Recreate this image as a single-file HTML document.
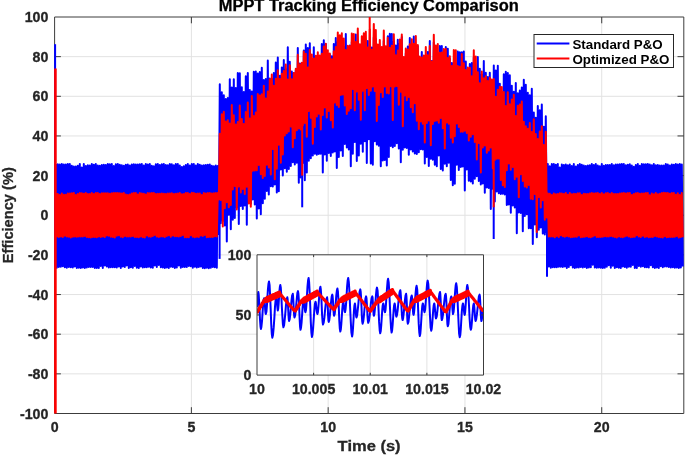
<!DOCTYPE html>
<html><head><meta charset="utf-8"><title>MPPT Tracking Efficiency Comparison</title>
<style>html,body{margin:0;padding:0;background:#fff;overflow:hidden}body{width:685px;height:455px;position:relative}</style></head>
<body>
<svg width="685" height="455" viewBox="0 0 685 455" style="display:block;position:absolute;left:0;top:0">
<rect width="685" height="455" fill="#fff"/>
<path d="M54.6 373.85H683.8M54.6 334.20H683.8M54.6 294.55H683.8M54.6 254.90H683.8M54.6 215.25H683.8M54.6 175.60H683.8M54.6 135.95H683.8M54.6 96.30H683.8M54.6 56.65H683.8M191.38 17.0V413.5M328.17 17.0V413.5M464.95 17.0V413.5M601.73 17.0V413.5" stroke="#e2e2e2" stroke-width="1" fill="none"/>
<path d="M54.6 17.0H683.8V413.5H54.6ZM54.6 373.85h6.3M683.8 373.85h-6.3M54.6 334.20h6.3M683.8 334.20h-6.3M54.6 294.55h6.3M683.8 294.55h-6.3M54.6 254.90h6.3M683.8 254.90h-6.3M54.6 215.25h6.3M683.8 215.25h-6.3M54.6 175.60h6.3M683.8 175.60h-6.3M54.6 135.95h6.3M683.8 135.95h-6.3M54.6 96.30h6.3M683.8 96.30h-6.3M54.6 56.65h6.3M683.8 56.65h-6.3M191.38 413.5v-6.3M191.38 17.0v6.3M328.17 413.5v-6.3M328.17 17.0v6.3M464.95 413.5v-6.3M464.95 17.0v6.3M601.73 413.5v-6.3M601.73 17.0v6.3" stroke="#3c3c3c" stroke-width="1" fill="none"/>
<g fill="none" stroke-linejoin="round" stroke-width="2">
<polyline points="55.8,163.9 56.8,267.8 57.8,164.3 58.8,266.9 59.8,164.5 60.8,266.8 61.8,164.0 62.8,266.3 63.8,164.6 64.8,267.3 65.8,164.6 66.8,267.7 67.8,164.0 68.8,266.9 69.8,163.9 70.8,267.2 71.8,165.8 72.8,267.5 73.8,166.5 74.8,266.4 75.8,166.5 76.8,267.9 77.8,165.7 78.8,267.8 79.8,164.1 80.8,267.9 81.8,167.4 82.8,267.4 83.8,164.0 84.8,268.0 85.8,166.0 86.8,267.5 87.8,165.3 88.8,267.1 89.8,165.4 90.8,267.1 91.8,163.9 92.8,267.0 93.8,164.7 94.8,268.0 95.8,164.1 96.8,268.1 97.8,165.6 98.8,268.1 99.8,165.8 100.8,266.0 101.8,165.1 102.8,268.0 103.8,164.8 104.8,265.4 105.8,165.0 106.8,266.5 107.8,164.0 108.8,267.4 109.8,164.2 110.8,267.2 111.8,164.0 112.8,267.3 113.8,165.9 114.8,267.2 115.8,164.2 116.8,267.5 117.8,164.1 118.8,266.5 119.8,164.7 120.8,267.9 121.8,165.2 122.8,266.6 123.8,165.7 124.8,267.1 125.8,164.8 126.8,265.4 127.8,164.5 128.8,268.0 129.8,165.6 130.8,267.2 131.8,164.4 132.8,267.7 133.8,164.3 134.8,266.1 135.8,164.5 136.8,267.8 137.8,164.4 138.8,268.0 139.8,164.2 140.8,266.6 141.8,163.9 142.8,267.6 143.8,165.5 144.8,267.3 145.8,163.9 146.8,267.3 147.8,164.4 148.8,266.7 149.8,163.9 150.8,267.4 151.8,165.7 152.8,267.7 153.8,166.2 154.8,265.4 155.8,164.3 156.8,266.9 157.8,164.1 158.8,265.1 159.8,165.1 160.8,267.3 161.8,164.2 162.8,267.5 163.8,164.1 164.8,267.9 165.8,164.9 166.8,267.5 167.8,165.3 168.8,268.1 169.8,164.0 170.8,266.7 171.8,164.3 172.8,267.0 173.8,165.3 174.8,267.9 175.8,164.0 176.8,267.4 177.8,164.1 178.8,265.4 179.8,165.5 180.8,267.7 181.8,166.9 182.8,267.0 183.8,166.3 184.8,267.1 185.8,165.1 186.8,267.1 187.8,164.1 188.8,266.1 189.8,165.6 190.8,266.2 191.8,164.0 192.8,267.8 193.8,164.1 194.8,266.8 195.8,165.4 196.8,267.4 197.8,164.0 198.8,267.1 199.8,164.8 200.8,266.4 201.8,165.6 202.8,268.0 203.8,165.2 204.8,268.2 205.8,164.9 206.8,267.7 207.8,164.7 208.8,268.2 209.8,164.4 210.8,267.8 211.8,165.8 212.8,267.1 213.8,166.2 214.8,267.3 215.8,165.4 216.8,267.7 217.8,165.9 218.8,234.1 219.8,84.3 220.8,223.3 221.8,92.3 222.8,220.9 223.8,95.3 224.8,225.4 225.8,99.0 226.8,241.5 227.8,97.9 228.8,214.8 229.8,79.3 230.8,229.2 231.8,87.4 232.8,219.7 233.8,79.3 234.8,218.0 235.8,88.1 236.8,207.6 237.8,73.0 238.8,224.1 239.8,73.2 240.8,206.0 241.8,87.2 242.8,209.1 243.8,92.1 244.8,205.5 245.8,76.2 246.8,224.8 247.8,73.0 248.8,202.8 249.8,90.1 250.8,203.7 251.8,91.5 252.8,199.6 253.8,71.8 254.8,204.5 255.8,71.5 256.8,218.5 257.8,73.4 258.8,208.4 259.8,72.1 260.8,214.2 261.8,67.7 262.8,203.3 263.8,79.9 264.8,198.7 265.8,79.0 266.8,191.0 267.8,60.4 268.8,194.5 269.8,78.6 270.8,186.2 271.8,78.9 272.8,186.5 273.8,73.1 274.8,184.6 275.8,62.6 276.8,192.5 277.8,57.5 278.8,191.2 279.8,75.7 280.8,169.5 281.8,67.5 282.8,175.6 283.8,60.0 284.8,168.3 285.8,69.2 286.8,171.7 287.8,47.3 288.8,169.0 289.8,61.7 290.8,166.0 291.8,71.6 292.8,162.3 293.8,73.1 294.8,164.5 295.8,70.1 296.8,162.7 297.8,47.9 298.8,182.8 299.8,63.4 300.8,177.5 301.8,63.3 302.8,163.1 303.8,50.5 304.8,180.2 305.8,44.5 306.8,172.5 307.8,48.0 308.8,160.7 309.8,43.2 310.8,158.2 311.8,63.9 312.8,155.4 313.8,47.2 314.8,153.8 315.8,56.3 316.8,154.7 317.8,63.0 318.8,154.1 319.8,65.8 320.8,153.8 321.8,44.1 322.8,172.5 323.8,40.3 324.8,154.6 325.8,43.9 326.8,160.8 327.8,59.5 328.8,153.1 329.8,54.6 330.8,155.9 331.8,56.2 332.8,152.4 333.8,44.0 334.8,151.5 335.8,38.1 336.8,168.1 337.8,41.7 338.8,156.9 339.8,59.7 340.8,150.5 341.8,55.6 342.8,156.1 343.8,46.9 344.8,143.9 345.8,33.9 346.8,147.4 347.8,50.5 348.8,149.5 349.8,45.5 350.8,166.3 351.8,41.9 352.8,153.7 353.8,45.1 354.8,141.9 355.8,34.6 356.8,161.0 357.8,43.6 358.8,155.5 359.8,51.3 360.8,143.8 361.8,43.9 362.8,151.8 363.8,41.5 364.8,141.2 365.8,51.8 366.8,163.0 367.8,41.1 368.8,139.3 369.8,52.9 370.8,163.6 371.8,47.6 372.8,164.7 373.8,37.4 374.8,141.2 375.8,39.0 376.8,144.4 377.8,55.9 378.8,145.7 379.8,54.0 380.8,166.3 381.8,53.5 382.8,160.4 383.8,41.1 384.8,160.0 385.8,51.1 386.8,165.5 387.8,36.3 388.8,157.1 389.8,33.7 390.8,145.9 391.8,34.1 392.8,147.3 393.8,41.4 394.8,146.0 395.8,45.6 396.8,143.2 397.8,39.8 398.8,148.5 399.8,43.5 400.8,162.3 401.8,37.0 402.8,149.7 403.8,58.3 404.8,147.4 405.8,53.4 406.8,148.0 407.8,46.4 408.8,154.7 409.8,38.1 410.8,149.4 411.8,58.2 412.8,151.5 413.8,36.6 414.8,153.5 415.8,56.3 416.8,153.9 417.8,46.2 418.8,152.3 419.8,60.1 420.8,149.2 421.8,51.9 422.8,149.5 423.8,60.6 424.8,163.5 425.8,59.3 426.8,157.0 427.8,52.1 428.8,165.9 429.8,40.9 430.8,158.8 431.8,61.0 432.8,159.8 433.8,42.4 434.8,164.7 435.8,64.0 436.8,166.3 437.8,62.2 438.8,155.6 439.8,46.1 440.8,169.0 441.8,45.9 442.8,170.6 443.8,59.2 444.8,163.7 445.8,46.9 446.8,166.3 447.8,48.8 448.8,162.7 449.8,58.7 450.8,180.0 451.8,62.9 452.8,185.3 453.8,62.4 454.8,183.7 455.8,70.0 456.8,164.7 457.8,51.5 458.8,170.1 459.8,52.2 460.8,167.1 461.8,52.3 462.8,166.6 463.8,51.5 464.8,190.4 465.8,61.4 466.8,169.6 467.8,71.4 468.8,180.8 469.8,64.0 470.8,181.5 471.8,63.0 472.8,183.5 473.8,57.5 474.8,178.7 475.8,78.0 476.8,176.3 477.8,57.0 478.8,180.9 479.8,68.7 480.8,184.6 481.8,74.6 482.8,183.4 483.8,61.0 484.8,192.7 485.8,72.8 486.8,187.4 487.8,77.1 488.8,188.0 489.8,72.7 490.8,208.9 491.8,81.6 492.8,188.7 493.8,65.6 494.8,201.6 495.8,70.4 496.8,191.4 497.8,65.7 498.8,193.3 499.8,83.8 500.8,194.1 501.8,92.0 502.8,193.7 503.8,74.2 504.8,194.6 505.8,71.8 506.8,205.1 507.8,73.0 508.8,204.6 509.8,75.2 510.8,212.8 511.8,85.8 512.8,205.4 513.8,91.7 514.8,207.4 515.8,83.1 516.8,233.3 517.8,93.3 518.8,212.5 519.8,90.5 520.8,212.9 521.8,87.6 522.8,231.3 523.8,79.7 524.8,215.9 525.8,84.8 526.8,214.3 527.8,92.7 528.8,228.2 529.8,95.2 530.8,228.2 531.8,88.8 532.8,243.9 533.8,112.4 534.8,224.4 535.8,117.8 536.8,237.3 537.8,105.9 538.8,229.7 539.8,110.2 540.8,227.6 541.8,104.6 542.8,233.4 543.8,126.7 544.8,234.6 545.8,116.3 546.8,232.6 547.8,164.0 548.8,266.5 549.8,166.3 550.8,267.8 551.8,164.0 552.8,267.2 553.8,164.0 554.8,267.3 555.8,164.7 556.8,267.2 557.8,164.0 558.8,266.8 559.8,167.5 560.8,266.8 561.8,164.5 562.8,267.0 563.8,165.0 564.8,266.6 565.8,164.6 566.8,268.1 567.8,165.3 568.8,266.9 569.8,164.6 570.8,265.3 571.8,165.9 572.8,267.6 573.8,164.1 574.8,267.9 575.8,166.4 576.8,267.5 577.8,165.0 578.8,267.4 579.8,164.0 580.8,267.0 581.8,164.8 582.8,267.4 583.8,165.5 584.8,267.1 585.8,165.9 586.8,267.9 587.8,165.5 588.8,267.5 589.8,165.2 590.8,267.3 591.8,164.1 592.8,264.7 593.8,165.0 594.8,267.5 595.8,164.0 596.8,267.7 597.8,165.6 598.8,267.5 599.8,166.3 600.8,267.8 601.8,163.9 602.8,268.0 603.8,165.7 604.8,267.7 605.8,165.0 606.8,266.7 607.8,165.1 608.8,265.3 609.8,165.0 610.8,267.8 611.8,164.1 612.8,265.7 613.8,165.2 614.8,268.0 615.8,164.5 616.8,267.2 617.8,164.5 618.8,267.8 619.8,164.3 620.8,268.0 621.8,164.1 622.8,266.6 623.8,163.9 624.8,267.0 625.8,165.2 626.8,267.8 627.8,164.8 628.8,266.7 629.8,164.2 630.8,266.7 631.8,165.5 632.8,265.0 633.8,166.7 634.8,267.9 635.8,164.9 636.8,268.0 637.8,164.0 638.8,266.0 639.8,165.7 640.8,266.7 641.8,164.0 642.8,266.2 643.8,164.2 644.8,267.2 645.8,164.3 646.8,267.2 647.8,164.0 648.8,267.5 649.8,164.6 650.8,265.2 651.8,165.2 652.8,267.2 653.8,164.1 654.8,268.1 655.8,165.3 656.8,267.5 657.8,164.9 658.8,267.9 659.8,165.6 660.8,266.3 661.8,165.6 662.8,267.3 663.8,165.4 664.8,266.4 665.8,164.0 666.8,266.4 667.8,164.4 668.8,266.9 669.8,165.6 670.8,267.6 671.8,164.5 672.8,267.2 673.8,164.8 674.8,267.7 675.8,163.9 676.8,267.4 677.8,164.6 678.8,268.1 679.8,163.9 680.8,267.4 681.8,164.5 682.8,266.6" stroke="#0000ff"/>
<line x1="55.1" y1="266.8" x2="55.1" y2="44.2" stroke="#0000ff" stroke-width="2"/>
<line x1="302.2" y1="155.8" x2="302.2" y2="207.3" stroke="#0000ff" stroke-width="2"/>
<line x1="493.7" y1="175.6" x2="493.7" y2="239.0" stroke="#0000ff" stroke-width="2"/>
<line x1="547.0" y1="215.2" x2="547.0" y2="276.7" stroke="#0000ff" stroke-width="2"/>
<line x1="219.6" y1="215.2" x2="219.6" y2="258.9" stroke="#0000ff" stroke-width="2"/>
<polyline points="55.8,193.1 56.8,236.6 57.8,194.0 58.8,236.9 59.8,195.1 60.8,236.6 61.8,193.6 62.8,237.1 63.8,194.7 64.8,235.8 65.8,194.8 66.8,236.5 67.8,193.5 68.8,236.7 69.8,193.6 70.8,237.4 71.8,193.3 72.8,236.8 73.8,192.9 74.8,236.4 75.8,195.1 76.8,236.8 77.8,193.9 78.8,236.5 79.8,193.1 80.8,236.6 81.8,193.2 82.8,236.6 83.8,193.8 84.8,235.9 85.8,192.9 86.8,237.0 87.8,193.9 88.8,237.3 89.8,193.9 90.8,237.4 91.8,192.9 92.8,236.9 93.8,193.9 94.8,237.1 95.8,193.1 96.8,237.3 97.8,192.9 98.8,236.6 99.8,193.9 100.8,237.1 101.8,193.3 102.8,236.6 103.8,193.2 104.8,237.1 105.8,193.3 106.8,235.5 107.8,193.2 108.8,235.7 109.8,193.8 110.8,236.8 111.8,193.2 112.8,237.0 113.8,192.9 114.8,237.4 115.8,193.1 116.8,235.7 117.8,193.1 118.8,235.3 119.8,193.2 120.8,236.7 121.8,193.6 122.8,237.2 123.8,193.1 124.8,236.0 125.8,194.6 126.8,236.4 127.8,194.9 128.8,236.5 129.8,194.4 130.8,236.4 131.8,193.5 132.8,236.1 133.8,193.1 134.8,237.1 135.8,192.9 136.8,236.9 137.8,194.6 138.8,237.3 139.8,193.0 140.8,236.5 141.8,193.4 142.8,237.2 143.8,193.7 144.8,237.4 145.8,194.6 146.8,235.5 147.8,193.1 148.8,236.6 149.8,193.2 150.8,236.7 151.8,193.1 152.8,236.1 153.8,193.0 154.8,235.0 155.8,194.0 156.8,236.4 157.8,193.7 158.8,237.1 159.8,193.8 160.8,236.6 161.8,193.5 162.8,236.6 163.8,193.7 164.8,237.1 165.8,194.0 166.8,235.9 167.8,193.5 168.8,235.2 169.8,193.6 170.8,236.8 171.8,193.3 172.8,235.6 173.8,194.0 174.8,236.3 175.8,193.7 176.8,236.3 177.8,193.6 178.8,236.5 179.8,193.0 180.8,235.9 181.8,194.3 182.8,235.1 183.8,193.9 184.8,237.2 185.8,193.1 186.8,237.3 187.8,193.1 188.8,237.2 189.8,194.0 190.8,235.3 191.8,192.8 192.8,236.7 193.8,193.0 194.8,237.2 195.8,193.8 196.8,236.8 197.8,193.6 198.8,237.1 199.8,193.5 200.8,235.4 201.8,195.1 202.8,236.0 203.8,193.1 204.8,235.0 205.8,193.6 206.8,237.2 207.8,193.1 208.8,236.9 209.8,193.1 210.8,236.9 211.8,193.6 212.8,237.1 213.8,193.3 214.8,236.3 215.8,192.9 216.8,236.6 217.8,193.0 218.8,199.5 219.8,133.7 220.8,200.0 221.8,114.3 222.8,226.4 223.8,111.7 224.8,208.2 225.8,121.5 226.8,202.3 227.8,120.2 228.8,207.3 229.8,123.5 230.8,204.9 231.8,104.9 232.8,189.4 233.8,115.2 234.8,185.9 235.8,124.6 236.8,209.5 237.8,122.0 238.8,186.5 239.8,105.6 240.8,192.4 241.8,119.1 242.8,189.0 243.8,124.1 244.8,193.9 245.8,112.1 246.8,186.7 247.8,102.6 248.8,203.4 249.8,118.5 250.8,206.8 251.8,96.1 252.8,170.7 253.8,116.1 254.8,170.4 255.8,112.6 256.8,170.2 257.8,94.0 258.8,165.0 259.8,95.6 260.8,174.3 261.8,94.2 262.8,178.0 263.8,85.8 264.8,175.9 265.8,98.5 266.8,164.7 267.8,91.5 268.8,167.4 269.8,79.3 270.8,174.4 271.8,74.6 272.8,149.1 273.8,85.7 274.8,179.2 275.8,78.8 276.8,168.8 277.8,70.3 278.8,144.7 279.8,79.0 280.8,162.7 281.8,73.8 282.8,154.6 283.8,71.1 284.8,135.5 285.8,64.4 286.8,133.3 287.8,79.5 288.8,131.5 289.8,65.3 290.8,126.5 291.8,79.2 292.8,147.2 293.8,72.9 294.8,138.2 295.8,68.8 296.8,130.3 297.8,54.8 298.8,128.4 299.8,64.2 300.8,129.6 301.8,62.8 302.8,125.2 303.8,51.5 304.8,123.1 305.8,53.8 306.8,136.8 307.8,67.5 308.8,110.9 309.8,49.9 310.8,117.8 311.8,54.4 312.8,143.8 313.8,58.5 314.8,126.9 315.8,55.8 316.8,116.6 317.8,52.3 318.8,113.8 319.8,55.5 320.8,129.6 321.8,53.8 322.8,114.9 323.8,46.6 324.8,107.4 325.8,43.8 326.8,117.6 327.8,50.3 328.8,111.0 329.8,53.6 330.8,120.3 331.8,59.3 332.8,127.5 333.8,51.2 334.8,102.6 335.8,47.0 336.8,104.9 337.8,32.6 338.8,107.1 339.8,35.3 340.8,94.9 341.8,33.3 342.8,94.6 343.8,38.4 344.8,105.5 345.8,50.0 346.8,113.9 347.8,45.7 348.8,110.8 349.8,45.9 350.8,108.2 351.8,33.4 352.8,89.0 353.8,34.1 354.8,110.2 355.8,41.9 356.8,91.6 357.8,28.4 358.8,99.7 359.8,44.3 360.8,119.7 361.8,36.3 362.8,90.7 363.8,33.3 364.8,110.3 365.8,31.7 366.8,88.1 367.8,47.5 368.8,95.1 369.8,29.6 370.8,90.7 371.8,49.7 372.8,86.6 373.8,23.9 374.8,91.1 375.8,29.9 376.8,120.9 377.8,44.4 378.8,105.1 379.8,39.9 380.8,92.3 381.8,47.0 382.8,97.0 383.8,30.6 384.8,86.6 385.8,46.2 386.8,92.9 387.8,37.7 388.8,93.5 389.8,47.8 390.8,86.3 391.8,45.7 392.8,120.1 393.8,34.3 394.8,86.4 395.8,55.3 396.8,86.0 397.8,50.4 398.8,104.7 399.8,39.4 400.8,91.8 401.8,34.4 402.8,126.2 403.8,57.0 404.8,95.6 405.8,48.4 406.8,100.2 407.8,49.5 408.8,97.1 409.8,44.3 410.8,107.2 411.8,39.3 412.8,112.2 413.8,43.8 414.8,103.2 415.8,36.1 416.8,120.8 417.8,45.1 418.8,129.3 419.8,56.4 420.8,121.5 421.8,57.6 422.8,123.7 423.8,55.5 424.8,142.5 425.8,47.1 426.8,122.9 427.8,55.3 428.8,120.4 429.8,45.9 430.8,145.2 431.8,61.6 432.8,124.0 433.8,34.8 434.8,120.9 435.8,45.4 436.8,120.6 437.8,44.0 438.8,122.7 439.8,52.7 440.8,118.1 441.8,52.5 442.8,128.3 443.8,49.0 444.8,148.6 445.8,49.0 446.8,122.4 447.8,58.0 448.8,123.8 449.8,56.2 450.8,137.8 451.8,66.0 452.8,142.6 453.8,50.0 454.8,136.2 455.8,50.2 456.8,123.4 457.8,66.1 458.8,127.0 459.8,66.8 460.8,131.8 461.8,54.1 462.8,131.8 463.8,63.3 464.8,130.8 465.8,69.9 466.8,132.9 467.8,67.5 468.8,140.6 469.8,67.7 470.8,136.8 471.8,76.3 472.8,134.2 473.8,50.3 474.8,142.0 475.8,56.6 476.8,159.5 477.8,72.2 478.8,143.0 479.8,83.3 480.8,172.4 481.8,71.4 482.8,147.5 483.8,78.2 484.8,145.5 485.8,76.2 486.8,152.7 487.8,80.9 488.8,150.4 489.8,77.7 490.8,147.5 491.8,79.5 492.8,168.3 493.8,78.9 494.8,159.9 495.8,96.7 496.8,158.7 497.8,89.7 498.8,158.6 499.8,86.7 500.8,180.0 501.8,86.9 502.8,185.3 503.8,92.1 504.8,187.1 505.8,105.9 506.8,170.3 507.8,92.2 508.8,163.6 509.8,104.2 510.8,169.7 511.8,99.6 512.8,166.9 513.8,94.7 514.8,179.2 515.8,116.0 516.8,176.8 517.8,105.8 518.8,197.2 519.8,104.6 520.8,174.2 521.8,101.5 522.8,181.0 523.8,121.8 524.8,186.4 525.8,126.3 526.8,187.4 527.8,128.7 528.8,184.9 529.8,123.1 530.8,198.7 531.8,132.1 532.8,199.3 533.8,119.3 534.8,193.9 535.8,133.9 536.8,232.0 537.8,139.1 538.8,197.0 539.8,131.4 540.8,207.5 541.8,126.3 542.8,200.2 543.8,144.9 544.8,219.8 545.8,131.8 546.8,217.5 547.8,193.4 548.8,236.5 549.8,193.8 550.8,236.4 551.8,195.0 552.8,236.4 553.8,193.6 554.8,237.2 555.8,194.2 556.8,236.1 557.8,194.0 558.8,237.1 559.8,193.2 560.8,235.2 561.8,193.6 562.8,236.3 563.8,193.9 564.8,236.8 565.8,192.9 566.8,235.9 567.8,194.7 568.8,236.6 569.8,193.1 570.8,237.3 571.8,194.2 572.8,237.0 573.8,193.8 574.8,236.7 575.8,194.0 576.8,236.7 577.8,193.2 578.8,235.6 579.8,193.2 580.8,237.3 581.8,195.1 582.8,237.1 583.8,193.7 584.8,236.7 585.8,194.0 586.8,236.3 587.8,194.0 588.8,236.9 589.8,193.5 590.8,237.3 591.8,192.9 592.8,236.5 593.8,193.4 594.8,235.4 595.8,193.3 596.8,237.1 597.8,193.1 598.8,237.1 599.8,194.1 600.8,236.9 601.8,193.0 602.8,236.8 603.8,194.2 604.8,236.3 605.8,193.2 606.8,236.5 607.8,192.9 608.8,236.4 609.8,193.9 610.8,235.9 611.8,193.1 612.8,236.4 613.8,193.9 614.8,237.1 615.8,194.0 616.8,237.4 617.8,194.0 618.8,236.6 619.8,193.6 620.8,237.0 621.8,193.2 622.8,237.2 623.8,193.1 624.8,236.5 625.8,193.4 626.8,235.7 627.8,193.0 628.8,236.5 629.8,192.9 630.8,237.2 631.8,194.9 632.8,237.1 633.8,194.1 634.8,236.7 635.8,193.2 636.8,235.3 637.8,193.1 638.8,236.5 639.8,193.8 640.8,237.1 641.8,193.5 642.8,235.7 643.8,193.5 644.8,236.9 645.8,193.1 646.8,236.4 647.8,192.9 648.8,237.2 649.8,195.2 650.8,236.9 651.8,193.4 652.8,237.0 653.8,194.2 654.8,236.0 655.8,193.1 656.8,236.4 657.8,194.2 658.8,236.9 659.8,193.7 660.8,237.2 661.8,192.9 662.8,237.4 663.8,192.8 664.8,236.3 665.8,193.0 666.8,237.3 667.8,193.1 668.8,237.1 669.8,193.7 670.8,237.0 671.8,192.9 672.8,236.9 673.8,193.0 674.8,236.8 675.8,194.8 676.8,236.1 677.8,193.3 678.8,237.4 679.8,195.0 680.8,237.1 681.8,192.9 682.8,237.2" stroke="#ff0000"/>
<line x1="55.4" y1="68.5" x2="55.4" y2="413.5" stroke="#ff0000" stroke-width="2.6"/>
<line x1="302.2" y1="116.1" x2="302.2" y2="175.6" stroke="#ff0000" stroke-width="2"/>
<line x1="493.7" y1="135.9" x2="493.7" y2="207.3" stroke="#ff0000" stroke-width="2"/>
<line x1="369.7" y1="46.7" x2="369.7" y2="17.0" stroke="#ff0000" stroke-width="2"/>
</g>
<g font-family="'Liberation Sans', Arial, sans-serif" font-weight="bold" fill="#262626" stroke="#262626" stroke-width="0.3">
<text x="218.8" y="10.5" font-size="16" textLength="300" lengthAdjust="spacingAndGlyphs" fill="#000" stroke="#000">MPPT Tracking Efficiency Comparison</text>
<text x="48.4" y="418.5" font-size="14.2" text-anchor="end">-100</text>
<text x="48.4" y="378.9" font-size="14.2" text-anchor="end">-80</text>
<text x="48.4" y="339.2" font-size="14.2" text-anchor="end">-60</text>
<text x="48.4" y="299.6" font-size="14.2" text-anchor="end">-40</text>
<text x="48.4" y="259.9" font-size="14.2" text-anchor="end">-20</text>
<text x="48.4" y="220.2" font-size="14.2" text-anchor="end">0</text>
<text x="48.4" y="180.6" font-size="14.2" text-anchor="end">20</text>
<text x="48.4" y="140.9" font-size="14.2" text-anchor="end">40</text>
<text x="48.4" y="101.3" font-size="14.2" text-anchor="end">60</text>
<text x="48.4" y="61.6" font-size="14.2" text-anchor="end">80</text>
<text x="48.4" y="22.0" font-size="14.2" text-anchor="end">100</text>
<text x="54.6" y="431.8" font-size="14.2" text-anchor="middle">0</text>
<text x="191.4" y="431.8" font-size="14.2" text-anchor="middle">5</text>
<text x="328.2" y="431.8" font-size="14.2" text-anchor="middle">10</text>
<text x="464.9" y="431.8" font-size="14.2" text-anchor="middle">15</text>
<text x="601.7" y="431.8" font-size="14.2" text-anchor="middle">20</text>
<text x="337.6" y="451.3" font-size="15" textLength="63" lengthAdjust="spacingAndGlyphs">Time (s)</text>
<text transform="translate(12.5,263.2) rotate(-90)" font-size="15.4" textLength="96" lengthAdjust="spacingAndGlyphs">Efficiency (%)</text>
</g>
<rect x="534" y="34.5" width="139.5" height="33" fill="#fff" stroke="#262626" stroke-width="1"/>
<line x1="536.7" x2="569.4" y1="43.5" y2="43.5" stroke="#0000ff" stroke-width="2"/>
<line x1="536.7" x2="569.4" y1="58.5" y2="58.5" stroke="#ff0000" stroke-width="2"/>
<g font-family="'Liberation Sans', Arial, sans-serif" font-weight="bold" fill="#000" font-size="13.33">
<text x="572.4" y="48.9">Standard P&amp;O</text>
<text x="572.4" y="64.0">Optimized P&amp;O</text>
</g>
<rect x="257.0" y="254.8" width="226.5" height="120.30000000000001" fill="#fff"/>
<path d="M257.0 314.95H483.5M313.62 254.8V375.1M370.25 254.8V375.1M426.88 254.8V375.1" stroke="#e2e2e2" stroke-width="1" fill="none"/>
<clipPath id="ic"><rect x="257.0" y="254.8" width="226.5" height="120.30000000000001"/></clipPath>
<g clip-path="url(#ic)" fill="none" stroke-linejoin="round">
<polyline points="257.0,307.0 257.2,305.9 257.4,303.2 257.7,299.5 257.9,295.7 258.1,293.0 258.3,292.0 258.7,294.5 259.1,301.2 259.6,310.5 260.0,319.7 260.5,326.5 260.9,328.9 261.4,326.9 262.0,321.2 262.5,313.5 263.0,305.9 263.5,300.2 264.1,298.2 264.4,299.2 264.7,302.1 265.0,306.1 265.2,310.0 265.5,312.9 265.8,314.0 266.4,311.8 266.9,305.9 267.4,297.7 267.9,289.6 268.5,283.6 269.0,281.4 269.6,285.2 270.1,295.5 270.7,309.6 271.2,323.7 271.8,334.0 272.3,337.7 273.0,335.0 273.7,327.4 274.4,317.1 275.0,306.7 275.7,299.2 276.4,296.4 276.6,297.3 276.9,299.9 277.1,303.4 277.3,307.0 277.6,309.5 277.8,310.5 278.2,308.8 278.6,304.1 279.0,297.7 279.4,291.3 279.9,286.7 280.3,285.0 280.8,287.8 281.3,295.5 281.8,306.1 282.4,316.6 282.9,324.4 283.4,327.2 284.1,325.2 284.7,319.7 285.4,312.2 286.0,304.8 286.7,299.3 287.3,297.3 287.6,298.9 287.9,303.2 288.2,309.1 288.5,315.1 288.8,319.4 289.1,321.0 289.7,319.2 290.3,314.2 290.9,307.4 291.5,300.6 292.1,295.6 292.8,293.8 293.0,295.3 293.3,299.7 293.6,305.6 293.9,311.6 294.2,315.9 294.5,317.5 295.1,315.7 295.7,310.9 296.3,304.3 296.9,297.7 297.4,292.9 298.0,291.1 298.4,293.7 298.9,300.8 299.3,310.5 299.7,320.1 300.1,327.2 300.5,329.8 301.0,327.8 301.6,322.3 302.1,314.9 302.6,307.4 303.1,301.9 303.7,299.9 304.0,300.7 304.3,303.0 304.5,306.1 304.8,309.1 305.1,311.4 305.4,312.2 306.0,309.9 306.5,303.7 307.0,295.1 307.5,286.5 308.1,280.2 308.6,277.9 309.1,281.9 309.7,292.7 310.3,307.4 310.8,322.1 311.4,332.9 311.9,336.9 312.5,334.5 313.1,328.1 313.7,319.3 314.3,310.5 314.9,304.0 315.5,301.7 315.8,302.5 316.1,304.8 316.4,307.8 316.7,310.9 317.1,313.2 317.4,314.0 317.9,312.2 318.4,307.2 318.9,300.4 319.4,293.5 319.9,288.5 320.4,286.7 320.8,289.2 321.3,296.2 321.7,305.6 322.1,315.1 322.6,322.0 323.0,324.5 323.7,322.7 324.4,317.7 325.0,310.9 325.7,304.1 326.4,299.1 327.1,297.3 327.3,298.9 327.6,303.4 327.9,309.6 328.1,315.7 328.4,320.3 328.7,321.9 329.3,320.1 329.9,315.1 330.5,308.3 331.1,301.5 331.7,296.5 332.3,294.6 332.6,296.0 332.9,299.9 333.2,305.2 333.5,310.5 333.8,314.3 334.1,315.7 334.7,313.9 335.2,308.9 335.8,302.1 336.3,295.3 336.9,290.3 337.4,288.5 337.9,291.4 338.4,299.3 338.9,310.0 339.3,320.8 339.8,328.7 340.3,331.6 340.8,329.6 341.3,324.1 341.8,316.6 342.3,309.1 342.8,303.7 343.3,301.7 343.5,302.4 343.8,304.3 344.1,307.0 344.4,309.6 344.7,311.5 345.0,312.2 345.5,309.9 346.1,303.7 346.6,295.1 347.1,286.5 347.7,280.2 348.2,277.9 348.8,281.8 349.5,292.6 350.1,307.2 350.8,321.9 351.4,332.6 352.1,336.5 352.5,334.3 353.0,328.2 353.5,320.0 353.9,311.7 354.4,305.6 354.9,303.4 355.1,304.4 355.4,307.0 355.7,310.5 355.9,314.0 356.2,316.6 356.5,317.5 357.1,315.6 357.7,310.5 358.4,303.4 359.0,296.4 359.7,291.2 360.3,289.4 360.7,291.7 361.1,297.9 361.5,306.5 361.8,315.1 362.2,321.4 362.6,323.7 363.2,321.8 363.8,316.8 364.4,310.0 365.0,303.2 365.5,298.2 366.1,296.4 366.5,298.2 366.8,303.0 367.2,309.6 367.5,316.2 367.9,321.0 368.2,322.8 368.9,321.0 369.6,316.2 370.3,309.6 370.9,303.0 371.6,298.2 372.3,296.4 372.6,297.7 372.8,301.2 373.1,306.1 373.3,310.9 373.6,314.5 373.9,315.7 374.4,313.9 374.9,308.7 375.5,301.7 376.0,294.6 376.5,289.5 377.0,287.6 377.6,290.7 378.1,299.0 378.6,310.5 379.1,321.9 379.7,330.3 380.2,333.3 380.7,331.3 381.2,325.9 381.7,318.4 382.2,310.9 382.7,305.4 383.2,303.4 383.5,304.0 383.8,305.6 384.1,307.8 384.4,310.0 384.7,311.6 385.0,312.2 385.5,310.0 386.0,303.9 386.5,295.5 387.1,287.2 387.6,281.0 388.1,278.8 388.7,282.4 389.3,292.2 389.9,305.6 390.5,319.0 391.1,328.9 391.6,332.5 392.1,330.5 392.6,325.2 393.1,317.9 393.6,310.7 394.1,305.4 394.6,303.4 394.9,304.3 395.2,306.7 395.5,310.0 395.8,313.3 396.1,315.7 396.4,316.6 397.0,314.9 397.7,310.0 398.3,303.4 399.0,296.8 399.6,292.0 400.3,290.2 400.6,292.2 401.0,297.7 401.4,305.2 401.8,312.7 402.2,318.1 402.6,320.1 403.1,318.4 403.7,313.5 404.3,307.0 404.9,300.4 405.5,295.5 406.1,293.8 406.4,295.8 406.7,301.2 407.0,308.7 407.2,316.2 407.5,321.7 407.8,323.7 408.5,321.8 409.1,316.6 409.8,309.6 410.4,302.6 411.1,297.4 411.7,295.5 412.0,296.8 412.3,300.4 412.6,305.2 412.9,310.0 413.2,313.6 413.5,314.9 414.0,312.9 414.5,307.6 415.0,300.4 415.6,293.1 416.1,287.8 416.6,285.8 417.2,289.2 417.7,298.4 418.2,310.9 418.7,323.4 419.3,332.6 419.8,336.0 420.3,333.8 420.8,327.8 421.3,319.7 421.8,311.6 422.3,305.6 422.8,303.4 423.1,304.0 423.4,305.6 423.7,307.8 424.0,310.0 424.3,311.6 424.5,312.2 425.1,310.1 425.6,304.3 426.1,296.4 426.7,288.5 427.2,282.7 427.7,280.6 428.3,283.9 428.9,293.1 429.5,305.6 430.1,318.2 430.6,327.3 431.2,330.7 431.7,328.9 432.2,323.9 432.7,317.1 433.2,310.2 433.7,305.3 434.2,303.4 434.5,304.4 434.8,307.2 435.1,310.9 435.4,314.6 435.7,317.4 436.0,318.4 436.7,316.6 437.3,311.8 438.0,305.2 438.7,298.6 439.4,293.8 440.0,292.0 440.3,293.9 440.6,299.0 440.9,306.1 441.2,313.1 441.5,318.3 441.8,320.1 442.4,318.4 443.1,313.5 443.7,307.0 444.4,300.4 445.0,295.5 445.7,293.8 446.0,295.9 446.4,301.9 446.7,310.0 447.1,318.2 447.4,324.1 447.8,326.3 448.4,324.3 448.9,318.8 449.5,311.3 450.1,303.9 450.7,298.4 451.3,296.4 451.6,297.6 451.9,300.8 452.2,305.2 452.5,309.6 452.8,312.8 453.0,314.0 453.6,311.9 454.1,306.3 454.6,298.6 455.2,290.9 455.7,285.3 456.2,283.2 456.8,286.8 457.4,296.7 458.0,310.2 458.6,323.7 459.1,333.6 459.7,337.2 460.3,335.0 460.8,328.8 461.3,320.3 461.8,311.9 462.4,305.7 462.9,303.4 463.2,304.2 463.5,306.3 463.8,309.1 464.1,312.0 464.4,314.1 464.7,314.9 465.1,312.9 465.5,307.4 466.0,299.9 466.4,292.4 466.9,287.0 467.3,285.0 467.9,288.0 468.5,296.2 469.1,307.4 469.6,318.6 470.2,326.8 470.8,329.8 471.3,328.1 471.8,323.2 472.3,316.6 472.8,310.0 473.3,305.2 473.8,303.4 474.1,304.6 474.4,307.8 474.7,312.2 475.0,316.6 475.3,319.8 475.6,321.0 476.2,319.3 476.9,314.4 477.6,307.8 478.3,301.2 478.9,296.4 479.6,294.6 479.9,296.4 480.2,301.2 480.5,307.8 480.8,314.4 481.1,319.3 481.4,321.0 481.7,320.1 482.1,317.7 482.4,314.4 482.8,311.1 483.1,308.7 483.5,307.8" stroke="#0000ff" stroke-width="2"/>
<polyline points="257.0,311.6 257.5,312.0 258.0,310.0 258.5,310.4 259.0,308.4 259.6,308.7 260.1,306.7 260.6,307.1 261.1,305.1 261.6,305.5 262.1,303.5 262.6,303.8 263.1,301.8 263.6,302.2 264.1,300.2 264.6,301.4 265.1,299.2 265.6,301.5 266.1,298.3 266.6,301.5 267.1,297.4 267.7,301.2 268.2,297.0 268.7,300.7 269.2,296.5 269.7,300.3 270.2,296.1 270.7,299.8 271.2,295.6 271.7,299.4 272.2,295.2 272.8,298.9 273.3,294.7 273.8,298.5 274.3,294.3 274.8,298.0 275.3,293.8 275.8,297.6 276.3,293.3 276.8,297.1 277.4,292.9 277.9,296.7 278.4,292.4 278.9,296.2 279.4,292.0 279.9,293.8 280.4,294.4 280.9,295.0 281.5,295.6 282.0,296.2 282.5,296.8 283.0,297.4 283.5,298.0 284.0,298.6 284.6,299.2 285.1,299.8 285.6,300.4 286.1,301.0 286.6,301.6 287.1,302.2 287.6,302.9 288.2,303.5 288.7,304.1 289.2,304.7 289.7,305.3 290.2,305.9 290.7,306.5 291.3,307.1 291.8,307.7 292.3,308.3 292.8,308.9 293.3,309.5 293.8,310.1 294.4,310.7 294.9,310.7 295.4,311.1 295.9,309.1 296.4,309.5 296.9,307.5 297.4,307.9 297.9,305.9 298.5,306.3 299.0,304.3 299.5,304.7 300.0,302.7 300.5,303.1 301.0,301.1 301.5,302.2 302.0,300.1 302.5,302.2 303.1,299.0 303.6,302.2 304.1,298.1 304.6,301.8 305.1,297.5 305.6,301.3 306.1,297.0 306.6,300.7 307.1,296.5 307.6,300.2 308.1,295.9 308.6,299.7 309.1,295.4 309.6,299.1 310.1,294.9 310.7,298.6 311.2,294.3 311.7,298.1 312.2,293.8 312.7,297.5 313.2,293.3 313.7,297.0 314.2,292.7 314.7,296.5 315.2,292.2 315.7,295.9 316.2,291.7 316.7,295.4 317.2,291.1 317.7,292.9 318.3,293.4 318.8,294.0 319.3,294.5 319.8,295.0 320.3,295.6 320.8,296.1 321.3,296.6 321.8,297.2 322.3,297.7 322.9,298.3 323.4,298.8 323.9,299.3 324.4,299.9 324.9,300.4 325.4,301.0 325.9,301.5 326.4,302.0 326.9,302.6 327.4,303.1 328.0,303.7 328.5,304.2 329.0,304.7 329.5,305.3 330.0,305.8 330.5,306.4 331.0,306.9 331.5,307.4 332.0,308.0 332.6,308.5 333.1,309.1 333.6,309.0 334.1,309.5 334.6,307.5 335.1,308.0 335.6,306.1 336.1,306.5 336.7,304.6 337.2,305.1 337.7,303.1 338.2,303.6 338.7,301.7 339.2,302.1 339.7,300.2 340.2,301.4 340.8,299.2 341.3,301.4 341.8,298.1 342.3,301.4 342.8,297.3 343.3,301.0 343.8,296.7 344.3,300.5 344.8,296.2 345.4,300.0 345.9,295.7 346.4,299.5 346.9,295.2 347.4,299.0 347.9,294.7 348.4,298.4 348.9,294.2 349.4,297.9 350.0,293.7 350.5,297.4 351.0,293.2 351.5,296.9 352.0,292.7 352.5,296.4 353.0,292.2 353.5,295.9 354.0,291.6 354.6,295.4 355.1,291.1 355.6,292.9 356.1,293.5 356.6,294.2 357.1,294.9 357.6,295.5 358.1,296.2 358.7,296.8 359.2,297.5 359.7,298.2 360.2,298.8 360.7,299.5 361.2,300.1 361.8,300.8 362.3,301.5 362.8,302.1 363.3,302.8 363.8,303.4 364.3,304.1 364.8,304.8 365.4,305.4 365.9,306.1 366.4,306.7 366.9,307.4 367.4,308.0 367.9,308.7 368.5,309.4 369.0,310.0 369.5,310.7 370.0,310.7 370.5,311.3 371.0,309.4 371.5,309.9 372.0,308.0 372.5,308.5 373.0,306.6 373.5,307.1 374.0,305.2 374.5,305.7 375.0,303.8 375.5,304.3 376.0,302.5 376.5,303.0 377.0,301.1 377.5,302.2 378.1,299.9 378.6,302.0 379.1,298.7 379.6,301.9 380.1,297.6 380.6,301.3 381.1,296.9 381.6,300.6 382.1,296.3 382.7,299.9 383.2,295.6 383.7,299.2 384.2,294.9 384.7,298.6 385.2,294.2 385.7,297.9 386.2,293.5 386.7,297.2 387.3,292.9 387.8,296.5 388.3,292.2 388.8,295.8 389.3,291.5 389.8,295.2 390.3,290.8 390.8,294.5 391.3,290.1 391.9,293.8 392.4,289.5 392.9,291.1 393.4,291.8 393.9,292.5 394.4,293.2 394.9,293.9 395.5,294.6 396.0,295.3 396.5,296.0 397.0,296.7 397.5,297.4 398.0,298.1 398.5,298.8 399.1,299.5 399.6,300.2 400.1,300.9 400.6,301.6 401.1,302.3 401.6,303.0 402.2,303.7 402.7,304.4 403.2,305.1 403.7,305.8 404.2,306.5 404.7,307.2 405.3,307.9 405.8,308.6 406.3,309.3 406.8,310.0 407.3,310.7 407.8,310.7 408.3,311.1 408.9,309.0 409.4,309.3 409.9,307.2 410.4,307.6 410.9,305.5 411.4,305.8 411.9,303.7 412.4,304.0 413.0,302.0 413.5,302.3 414.0,300.2 414.5,301.4 415.0,299.2 415.5,301.3 416.0,298.2 416.5,301.3 417.0,297.2 417.5,300.9 418.0,296.7 418.5,300.4 419.1,296.1 419.6,299.9 420.1,295.6 420.6,299.3 421.1,295.1 421.6,298.8 422.1,294.5 422.6,298.3 423.1,294.0 423.6,297.7 424.1,293.5 424.6,297.2 425.1,292.9 425.6,296.7 426.1,292.4 426.7,296.1 427.2,291.9 427.7,295.6 428.2,291.3 428.7,295.1 429.2,290.8 429.7,294.5 430.2,290.3 430.7,292.0 431.2,292.7 431.7,293.4 432.3,294.1 432.8,294.8 433.3,295.5 433.8,296.2 434.3,296.9 434.8,297.6 435.3,298.3 435.9,299.0 436.4,299.7 436.9,300.4 437.4,301.1 437.9,301.8 438.4,302.5 439.0,303.2 439.5,303.9 440.0,304.6 440.5,305.3 441.0,305.9 441.5,306.6 442.0,307.3 442.6,308.0 443.1,308.7 443.6,309.4 444.1,310.1 444.6,310.8 445.1,311.5 445.7,311.6 446.2,311.9 446.7,309.7 447.2,310.0 447.7,307.8 448.2,308.1 448.7,305.9 449.3,306.2 449.8,304.0 450.3,304.3 450.8,302.1 451.3,302.3 451.8,300.2 452.3,301.4 452.8,299.2 453.3,301.4 453.8,298.3 454.4,301.4 454.9,297.4 455.4,301.1 455.9,296.9 456.4,300.6 456.9,296.4 457.4,300.2 457.9,295.9 458.4,299.7 458.9,295.4 459.4,299.2 459.9,295.0 460.4,298.7 460.9,294.5 461.4,298.2 461.9,294.0 462.5,297.8 463.0,293.5 463.5,297.3 464.0,293.0 464.5,296.8 465.0,292.6 465.5,296.3 466.0,292.1 466.5,295.8 467.0,291.6 467.5,295.4 468.0,291.1 468.5,292.9 469.0,293.5 469.6,294.1 470.1,294.8 470.6,295.4 471.1,296.1 471.6,296.7 472.1,297.3 472.7,298.0 473.2,298.6 473.7,299.2 474.2,299.9 474.7,300.5 475.2,301.2 475.8,301.8 476.3,302.4 476.8,303.1 477.3,303.7 477.8,304.3 478.3,305.0 478.8,305.6 479.4,306.3 479.9,306.9 480.4,307.5 480.9,308.2 481.4,308.8 481.9,309.4 482.5,310.1 483.0,310.7 483.5,311.3" stroke="#ff0000" stroke-width="3.2"/>
</g>
<path d="M257.0 254.8H483.5V375.1H257.0ZM257.0 314.95h2.3M483.5 314.95h-2.3M313.62 375.1v-2.3M313.62 254.8v2.3M370.25 375.1v-2.3M370.25 254.8v2.3M426.88 375.1v-2.3M426.88 254.8v2.3" stroke="#3c3c3c" stroke-width="1" fill="none"/>
<g font-family="'Liberation Sans', Arial, sans-serif" font-weight="bold" fill="#262626" stroke="#262626" stroke-width="0.3" font-size="14.2">
<text x="251.3" y="380.3" text-anchor="end">0</text>
<text x="251.3" y="320.2" text-anchor="end">50</text>
<text x="251.3" y="260.0" text-anchor="end">100</text>
<text x="257.0" y="393.6" text-anchor="middle">10</text>
<text x="313.6" y="393.6" text-anchor="middle">10.005</text>
<text x="370.2" y="393.6" text-anchor="middle">10.01</text>
<text x="426.9" y="393.6" text-anchor="middle">10.015</text>
<text x="483.5" y="393.6" text-anchor="middle">10.02</text>
</g>
</svg>
</body></html>
